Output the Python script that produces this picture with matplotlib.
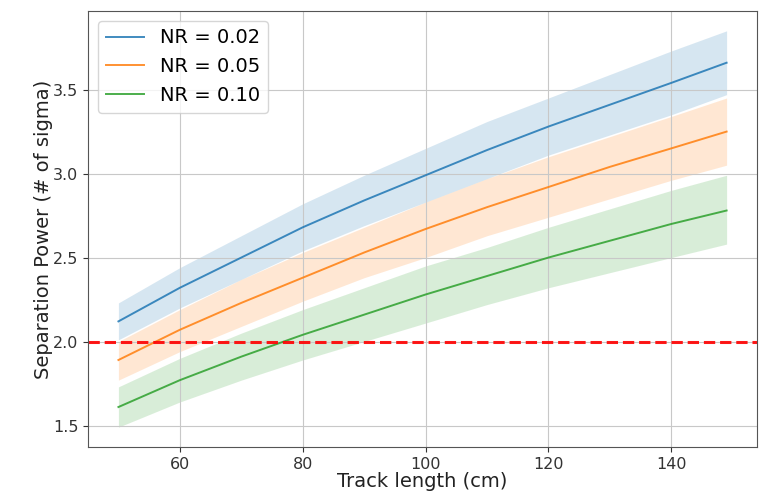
import matplotlib
matplotlib.use("Agg")
from matplotlib import pyplot as plt

# track length (cm)
track_length = [50, 60, 70, 80, 90, 100, 110, 120, 130, 140, 149]

# separation power per noise ratio
sep_002 = [2.12, 2.32, 2.50, 2.68, 2.84, 2.99, 3.14, 3.28, 3.41, 3.54, 3.66]
low_002 = [2.01, 2.20, 2.37, 2.54, 2.69, 2.83, 2.97, 3.11, 3.23, 3.35, 3.47]
high_002 = [2.23, 2.44, 2.63, 2.82, 2.99, 3.15, 3.31, 3.45, 3.59, 3.73, 3.85]

sep_005 = [1.89, 2.07, 2.23, 2.38, 2.53, 2.67, 2.80, 2.92, 3.04, 3.15, 3.25]
low_005 = [1.77, 1.94, 2.09, 2.24, 2.38, 2.50, 2.63, 2.74, 2.85, 2.96, 3.05]
high_005 = [2.00, 2.19, 2.37, 2.53, 2.68, 2.83, 2.97, 3.10, 3.22, 3.34, 3.45]

sep_010 = [1.61, 1.77, 1.91, 2.04, 2.16, 2.28, 2.39, 2.50, 2.60, 2.70, 2.78]
low_010 = [1.49, 1.64, 1.77, 1.89, 2.00, 2.11, 2.22, 2.32, 2.41, 2.50, 2.58]
high_010 = [1.73, 1.90, 2.05, 2.19, 2.32, 2.45, 2.56, 2.68, 2.79, 2.90, 2.99]

labels = ["NR = 0.02", "NR = 0.05", "NR = 0.10"]
threshold = 2.0

fig = plt.figure(figsize=(7.68, 4.93), dpi=100)
ax = fig.add_axes([0.1146, 0.0933, 0.8711, 0.8844])

series = [
    (sep_002, low_002, high_002, "tab:blue"),
    (sep_005, low_005, high_005, "tab:orange"),
    (sep_010, low_010, high_010, "tab:green"),
]
for (sep, low, high, color), label in zip(series, labels):
    ax.plot(track_length, sep, color=color, lw=1.4, alpha=0.85, label=label)
    ax.fill_between(track_length, low, high, color=color, alpha=0.18, lw=0)

ax.axhline(threshold, color="red", linestyle="--", lw=2.2, alpha=0.9)

ax.set_xticks([60, 80, 100, 120, 140])
ax.set_yticks([1.5, 2.0, 2.5, 3.0, 3.5])
ax.tick_params(labelsize=11.5, colors="#333333")
ax.grid(True, color="#c8c8c8")
for s in ax.spines.values():
    s.set_color("#555555")
ax.set_xlabel("Track length (cm)", fontsize=14, labelpad=0, color="#222222")
ax.set_ylabel("Separation Power (# of sigma)", fontsize=14, labelpad=0, color="#222222")
ax.legend(loc="upper left", fontsize=14)

fig.savefig("out.png", dpi=100)
